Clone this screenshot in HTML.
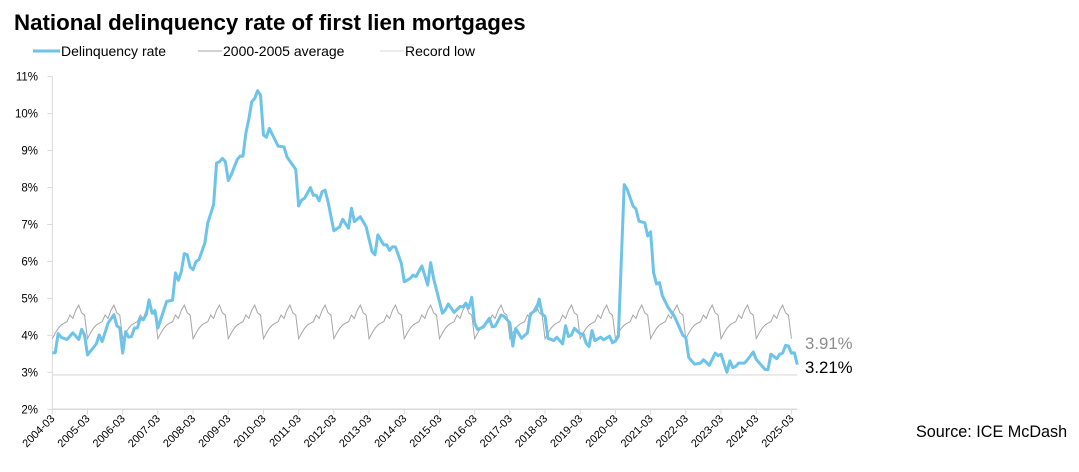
<!DOCTYPE html>
<html><head><meta charset="utf-8"><style>
html,body{margin:0;padding:0;background:#fff;}
svg{display:block;font-family:"Liberation Sans",Arial,sans-serif;}
</style></head><body>
<svg id="chart" width="1079" height="472" viewBox="0 0 1079 472" xmlns="http://www.w3.org/2000/svg">
<text x="14" y="30" font-size="22.3" font-weight="bold" fill="#000">National delinquency rate of first lien mortgages</text>
<g>
<g><line x1="33" y1="51" x2="60" y2="51" stroke="#6ec3e8" stroke-width="3"/><text x="61" y="56" font-size="14" fill="#000">Delinquency rate</text></g>
<g><line x1="198" y1="51" x2="222" y2="51" stroke="#a6a6a6" stroke-width="1"/><text x="223" y="56" font-size="14" fill="#000">2000-2005 average</text></g>
<g><line x1="380" y1="51" x2="404" y2="51" stroke="#d9d9d9" stroke-width="1"/><text x="405" y="56" font-size="14" fill="#000">Record low</text></g>
</g>
<g id="axes"></g>
<g id="series"></g>
<text x="805" y="349" font-size="16.8" fill="#8c8c8c">3.91%</text>
<text x="805" y="373" font-size="16.8" fill="#000">3.21%</text>
<text x="916" y="437" font-size="16.2" fill="#000">Source: ICE McDash</text>
</svg>
<script>
const dates = ["2004-03","2004-04","2004-05","2004-06","2004-08","2004-10","2004-12","2005-01","2005-02","2005-03","2005-06","2005-07","2005-08","2005-10","2005-12","2006-01","2006-02","2006-03","2006-04","2006-05","2006-06","2006-07","2006-08","2006-09","2006-10","2006-11","2006-12","2007-01","2007-02","2007-03","2007-06","2007-08","2007-09","2007-10","2007-11","2007-12","2008-01","2008-02","2008-03","2008-04","2008-05","2008-07","2008-08","2008-10","2008-11","2008-12","2009-01","2009-02","2009-03","2009-04","2009-06","2009-07","2009-08","2009-09","2009-10","2009-11","2009-12","2010-01","2010-02","2010-03","2010-04","2010-05","2010-07","2010-08","2010-10","2010-11","2011-02","2011-03","2011-04","2011-05","2011-07","2011-08","2011-09","2011-10","2011-11","2011-12","2012-01","2012-03","2012-05","2012-06","2012-08","2012-09","2012-10","2012-12","2013-02","2013-04","2013-05","2013-06","2013-08","2013-09","2013-10","2013-11","2013-12","2014-02","2014-03","2014-05","2014-06","2014-07","2014-09","2014-11","2014-12","2015-01","2015-02","2015-04","2015-05","2015-06","2015-08","2015-10","2015-11","2015-12","2016-01","2016-02","2016-03","2016-04","2016-06","2016-08","2016-09","2016-10","2016-12","2017-01","2017-03","2017-04","2017-05","2017-07","2017-09","2017-10","2017-12","2018-01","2018-02","2018-03","2018-04","2018-06","2018-07","2018-09","2018-10","2018-11","2018-12","2019-01","2019-03","2019-04","2019-05","2019-06","2019-07","2019-08","2019-10","2019-11","2020-01","2020-02","2020-03","2020-04","2020-06","2020-07","2020-09","2020-10","2020-11","2021-01","2021-02","2021-03","2021-04","2021-05","2021-06","2021-07","2021-09","2021-11","2021-12","2022-02","2022-03","2022-04","2022-06","2022-08","2022-09","2022-11","2023-01","2023-02","2023-03","2023-05","2023-06","2023-07","2023-08","2023-09","2023-11","2023-12","2024-02","2024-03","2024-04","2024-06","2024-07","2024-08","2024-10","2024-11","2024-12","2025-01","2025-02","2025-03","2025-04","2025-05"];
const rates = [3.53,3.53,4.05,3.95,3.89,4.07,3.89,4.16,4.01,3.47,3.77,4.01,3.83,4.33,4.56,4.26,4.2,3.52,4.1,3.95,3.97,4.2,4.2,4.47,4.42,4.56,4.96,4.6,4.67,4.2,4.92,4.95,5.69,5.49,5.73,6.21,6.18,5.85,5.78,6.0,6.05,6.5,7.04,7.54,8.66,8.7,8.79,8.7,8.19,8.34,8.75,8.85,8.85,9.47,9.85,10.32,10.41,10.62,10.5,9.42,9.36,9.6,9.28,9.12,9.1,8.83,8.49,7.5,7.66,7.71,8.0,7.79,7.79,7.64,7.89,7.93,7.62,6.83,6.94,7.14,6.9,7.44,7.08,7.21,6.94,6.27,6.18,6.72,6.45,6.45,6.3,6.4,6.39,5.95,5.45,5.54,5.63,5.59,5.88,5.36,5.97,5.54,5.23,4.6,4.69,4.85,4.62,4.78,4.77,4.87,4.74,5.03,4.33,4.16,4.23,4.46,4.23,4.25,4.55,4.52,4.34,3.71,4.19,3.92,4.07,4.58,4.69,4.98,4.58,4.51,3.92,3.86,3.95,3.77,4.26,3.97,4.01,4.19,4.04,4.04,3.79,3.7,4.13,3.86,3.95,3.88,3.98,3.8,3.85,3.97,8.08,7.95,7.5,7.42,7.09,7.05,6.69,6.8,5.7,5.39,5.43,5.07,4.75,4.53,4.36,4.0,3.94,3.4,3.22,3.25,3.34,3.19,3.52,3.45,3.49,3.0,3.31,3.13,3.16,3.25,3.25,3.34,3.55,3.35,3.26,3.08,3.07,3.49,3.37,3.49,3.52,3.73,3.71,3.52,3.53,3.21];
// 2000-2005 average by calendar month, March..February
const avgMonthNames = ["Mar","Apr","May","Jun","Jul","Aug","Sep","Oct","Nov","Dec","Jan","Feb"];
const avgByMonth = [3.91,4.06,4.19,4.28,4.33,4.37,4.55,4.46,4.68,4.82,4.61,4.55];
const recordLow = [2.93];
const yTicks = [2,3,4,5,6,7,8,9,10,11];
const xTickLabels = ["2004-03","2005-03","2006-03","2007-03","2008-03","2009-03","2010-03","2011-03","2012-03","2013-03","2014-03","2015-03","2016-03","2017-03","2018-03","2019-03","2020-03","2021-03","2022-03","2023-03","2024-03","2025-03"];
const avgStart = "2004-03", avgEnd = "2025-03", axisEnd = "2025-05";

const NS="http://www.w3.org/2000/svg";
const X0=52.3, DX=2.933, Y2=409.3, PPU=36.96;
function mIdx(d){const [y,m]=d.split("-").map(Number);return (y-2004)*12+(m-3);}
function xs(d){return X0+mIdx(d)*DX;}
function xi(i){return X0+i*DX;}
function ys(v){return Y2-(v-2)*PPU;}
function mk(tag,attrs,parent){const e=document.createElementNS(NS,tag);for(const k in attrs)e.setAttribute(k,attrs[k]);parent.appendChild(e);return e;}
const axes=document.getElementById("axes"), series=document.getElementById("series");
const xEnd=xs(axisEnd);
const yl=mk("line",{x1:X0,y1:ys(11),x2:X0,y2:Y2,stroke:"#d9d9d9","stroke-width":1},axes);


yTicks.forEach(v=>{
  const t=mk("line",{x1:X0-5,y1:ys(v),x2:X0,y2:ys(v),stroke:"#d9d9d9","stroke-width":1},axes);
  
  
  const tx=mk("text",{x:38,y:ys(v)+4,"font-size":11.5,"text-anchor":"end",fill:"#000"},axes);
  tx.textContent=v+"%";
  
  
});
const xl=mk("line",{x1:X0,y1:Y2,x2:xEnd,y2:Y2,stroke:"#d9d9d9","stroke-width":1.5},axes);


xTickLabels.forEach(d=>{
  const x=xs(d);
  const t=mk("line",{x1:x,y1:Y2,x2:x,y2:Y2+5,stroke:"#d9d9d9","stroke-width":1},axes);
  
  
  const tx=mk("text",{x:x+3,y:Y2+10,"font-size":11,"text-anchor":"end",fill:"#000",transform:`rotate(-45 ${x+3} ${Y2+10})`},axes);
  tx.textContent=d;
  
  
});
const rl=mk("line",{x1:X0,y1:ys(recordLow[0]),x2:xEnd,y2:ys(recordLow[0]),stroke:"#d9d9d9","stroke-width":1.2},series);


let ap=[];for(let i=mIdx(avgStart);i<=mIdx(avgEnd);i++){ap.push(xi(i).toFixed(2)+","+ys(avgByMonth[i%12]).toFixed(2));}
const al=mk("polyline",{points:ap.join(" "),fill:"none",stroke:"#a6a6a6","stroke-width":1},series);


const dp=dates.map((d,i)=>xs(d).toFixed(2)+","+ys(rates[i]).toFixed(2));
const dl=mk("polyline",{points:dp.join(" "),fill:"none",stroke:"#6ec3e8","stroke-width":3,"stroke-linejoin":"round"},series);


</script>
</body></html>
